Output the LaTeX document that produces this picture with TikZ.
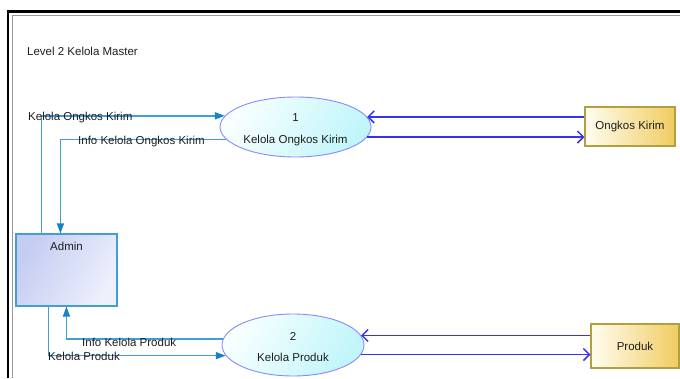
\documentclass[tikz,border=0pt]{standalone}
\usepackage{fontspec}
\setmainfont{Liberation Sans}
\usetikzlibrary{arrows.meta,calc,shapes.geometric}

\definecolor{flowc}{RGB}{64,160,214}
\definecolor{flowtip}{RGB}{24,130,196}
\definecolor{storec}{RGB}{52,52,240}
\definecolor{procline}{RGB}{136,136,255}
\definecolor{procA}{RGB}{248,255,255}
\definecolor{procB}{RGB}{192,245,250}
\definecolor{entA}{RGB}{196,204,242}
\definecolor{entB}{RGB}{238,240,252}
\definecolor{entline}{RGB}{64,160,214}
\definecolor{storeA}{RGB}{255,253,240}
\definecolor{storeB}{RGB}{240,204,96}
\definecolor{storeline}{RGB}{176,160,64}
\definecolor{txt}{RGB}{30,30,30}

\tikzset{
  process/.style={ellipse, draw=procline, line width=0.9pt, inner sep=0pt,
    left color=procA, right color=procB, shading angle=60},
  proclabel/.style={inner sep=0pt, text=txt},
  entity/.style={rectangle, draw=entline, line width=1.1pt, inner sep=0pt,
    left color=entA, right color=entB, shading angle=60},
  store/.style={rectangle, draw=storeline, line width=1.1pt, inner sep=0pt,
    left color=storeA, right color=storeB, text=txt},
  flow/.style={draw=flowc, line width=1.5pt,
    -{Triangle[length=10pt,width=7pt,fill=flowtip,color=flowtip]}},
  storeflow/.style={draw=storec, line width=1.5pt,
    -{Straight Barb[length=6pt,width=12pt]}},
  flowlabel/.style={anchor=west, inner sep=0pt, text=txt},
}

\begin{document}
\begin{tikzpicture}[x=1pt,y=-1pt, font=\fontsize{11.5}{13}\selectfont]
\useasboundingbox (0,0) rectangle (680,378);

% window frame
\draw[black, line width=2.2pt] (8,378) -- (8,11.5) -- (680,11.5);
\draw[black!40, line width=1.4pt] (12.5,378) -- (12.5,15.5) -- (680,15.5);

\node[anchor=west, inner sep=0pt, text=txt] (title) at (27,51) {Level 2 Kelola Master};

% processes
\node[process, minimum width=151pt, minimum height=60pt] (p1) at (295.5,127) {};
\node[proclabel] (p1n) at ($(p1.center)+(0,-9)$) {1};
\node[proclabel] (p1t) at ($(p1.center)+(0,14)$) {Kelola Ongkos Kirim};
\node[process, minimum width=142pt, minimum height=62pt] (p2) at (293,345) {};
\node[proclabel] (p2n) at ($(p2.center)+(0,-9)$) {2};
\node[proclabel] (p2t) at ($(p2.center)+(0,12)$) {Kelola Produk};

% external entity
\node[entity, minimum width=101pt, minimum height=72pt] (admin) at (66.5,270) {};
\node[text=txt, inner sep=0pt] (adminlbl) at ($(admin.north)+(0,13)$) {Admin};

% data stores
\node[store, minimum width=90pt, minimum height=39pt] (ok) at (630,126.5) {Ongkos Kirim};
\node[store, minimum width=88pt, minimum height=44pt] (pr) at (635,346) {Produk};

% flows between admin and processes
\draw[flow] ($(admin.north west)+(26,0)$) |- (p1.171);
\draw[flow] (p1.190) -| ($(admin.north west)+(45,0)$);
\draw[flow] (p2.175) -| ($(admin.south west)+(51,0)$);
\draw[flow] ($(admin.south west)+(33,0)$) |- (p2.189);

% flows between processes and stores
\draw[storeflow] (ok.west |- p1.8) -- (p1.8);
\draw[storeflow] (p1.-8) -- (ok.west |- p1.-8);
\draw[storeflow] (pr.west |- p2.8.5) -- (p2.8.5);
\draw[storeflow] (p2.-8.5) -- (pr.west |- p2.-8.5);

% flow labels
\node[flowlabel] (l1) at (28,117.5) {Kelola Ongkos Kirim};
\node[flowlabel] (l2) at (78,141.5) {Info Kelola Ongkos Kirim};
\node[flowlabel] (l3) at (82,342.5) {Info Kelola Produk};
\node[flowlabel] (l4) at (48,356.5) {Kelola Produk};
\end{tikzpicture}
\end{document}
